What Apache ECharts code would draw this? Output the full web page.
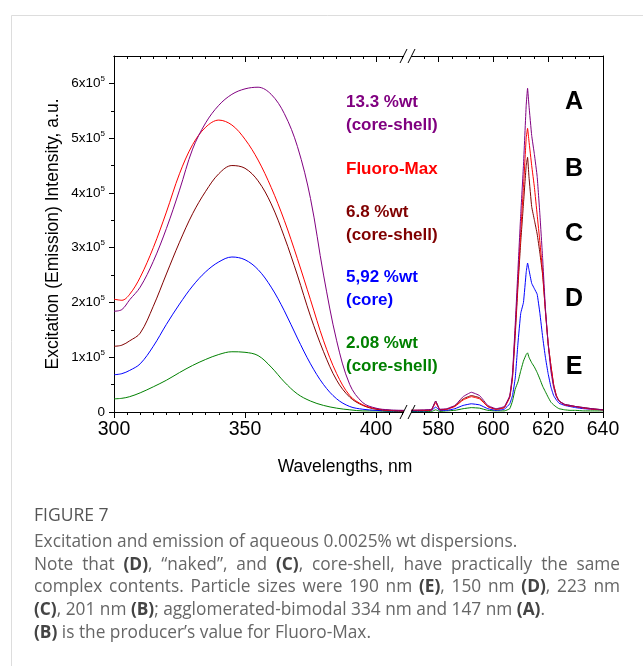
<!DOCTYPE html>
<html>
<head>
<meta charset="utf-8">
<script src="https://cdn.jsdelivr.net/npm/echarts@6/dist/echarts.min.js"></script>
<style>
html, body { margin: 0; padding: 0; background: #fff; }
#chart { width: 643px; height: 666px; }
</style>
</head>
<body>
<div id="chart"></div>
<script>
// values in units of 10^5
var exWl = [300, 303, 306, 310, 315, 320, 325, 330, 335, 340, 345, 350, 355, 360, 365, 370, 375, 380, 385, 390, 395, 400, 405, 410.7];
var exA = [1.84, 1.87, 2.05, 2.28, 2.75, 3.35, 4.05, 4.8, 5.28, 5.6, 5.8, 5.9, 5.93, 5.8, 5.45, 4.85, 3.9, 2.5, 1.3, 0.5, 0.17, 0.07, 0.04, 0.03];
var exB = [2.06, 2.04, 2.15, 2.46, 3.0, 3.65, 4.35, 4.88, 5.2, 5.33, 5.24, 4.98, 4.6, 4.1, 3.5, 2.8, 2.05, 1.3, 0.7, 0.3, 0.13, 0.06, 0.03, 0.02];
var exC = [1.2, 1.22, 1.3, 1.44, 1.93, 2.52, 3.1, 3.62, 4.03, 4.35, 4.5, 4.45, 4.22, 3.8, 3.2, 2.5, 1.75, 1.1, 0.58, 0.27, 0.12, 0.05, 0.03, 0.02];
var exD = [0.68, 0.7, 0.76, 0.88, 1.2, 1.6, 1.97, 2.3, 2.56, 2.74, 2.83, 2.78, 2.6, 2.28, 1.85, 1.35, 0.88, 0.5, 0.24, 0.1, 0.05, 0.03, 0.02, 0.02];
var exE = [0.24, 0.25, 0.28, 0.35, 0.46, 0.58, 0.72, 0.85, 0.96, 1.05, 1.1, 1.09, 1.03, 0.82, 0.55, 0.33, 0.2, 0.12, 0.07, 0.04, 0.02, 0.02, 0.01, 0.01];

var emWl = [570, 575, 577.5, 579, 580.5, 583, 586, 589, 592, 595, 598, 601, 604, 606, 607, 608, 609, 610, 611, 612, 612.5, 613, 614, 615, 616, 617, 618, 619, 620, 621, 622, 623, 624, 626, 628, 630, 633, 636, 640];
var emA = [0.03, 0.04, 0.05, 0.2, 0.05, 0.06, 0.12, 0.28, 0.36, 0.3, 0.12, 0.06, 0.1, 0.3, 0.7, 1.6, 2.6, 3.6, 4.5, 5.6, 5.91, 5.6, 5.05, 4.7, 4.3, 3.6, 2.8, 1.9, 1.25, 0.75, 0.45, 0.28, 0.2, 0.14, 0.12, 0.1, 0.08, 0.06, 0.04];
var emB = [0.03, 0.03, 0.04, 0.17, 0.04, 0.05, 0.1, 0.22, 0.28, 0.24, 0.1, 0.05, 0.08, 0.28, 0.65, 1.5, 2.4, 3.3, 4.1, 5.0, 5.18, 4.95, 4.5, 4.1, 3.6, 3.1, 2.55, 1.85, 1.25, 0.85, 0.5, 0.3, 0.2, 0.13, 0.11, 0.1, 0.07, 0.05, 0.04];
var emC = [0.03, 0.03, 0.04, 0.2, 0.04, 0.05, 0.11, 0.24, 0.3, 0.26, 0.1, 0.05, 0.08, 0.27, 0.62, 1.4, 2.3, 3.1, 3.8, 4.5, 4.65, 4.3, 3.75, 3.5, 3.25, 2.9, 2.5, 1.85, 1.25, 0.85, 0.5, 0.3, 0.2, 0.14, 0.12, 0.1, 0.08, 0.06, 0.04];
var emD = [0.02, 0.02, 0.03, 0.09, 0.03, 0.03, 0.06, 0.12, 0.15, 0.13, 0.06, 0.03, 0.05, 0.15, 0.3, 0.62, 1.26, 1.8, 2.0, 2.55, 2.72, 2.6, 2.35, 2.25, 2.15, 1.8, 1.37, 1.0, 0.7, 0.46, 0.3, 0.22, 0.16, 0.12, 0.1, 0.08, 0.06, 0.05, 0.04];
var emE = [0.01, 0.01, 0.01, 0.04, 0.01, 0.02, 0.03, 0.06, 0.08, 0.07, 0.03, 0.02, 0.02, 0.06, 0.2, 0.42, 0.55, 0.75, 0.93, 1.05, 1.08, 1.0, 0.9, 0.82, 0.72, 0.6, 0.47, 0.37, 0.27, 0.18, 0.13, 0.09, 0.06, 0.04, 0.03, 0.03, 0.02, 0.02, 0.02];

var exMajor = [300, 350, 400];
var exMinor = [305, 310, 315, 320, 325, 330, 335, 340, 345, 355, 360, 365, 370, 375, 380, 385, 390, 395, 405, 410];
var emMajor = [580, 600, 620, 640];
var emMinor = [575, 585, 590, 595, 605, 610, 615, 625, 630, 635];
var yMajor = [0, 1, 2, 3, 4, 5, 6];
var yMinor = [0.5, 1.5, 2.5, 3.5, 4.5, 5.5];

var seriesNames = ['A', 'B', 'C', 'D', 'E'];
var seriesColors = ['#800080', '#ff0000', '#800000', '#0000ff', '#008000'];
var noteLines = [['13.3 %wt', '(core-shell)'], ['Fluoro-Max'], ['6.8 %wt', '(core-shell)'], ['5,92 %wt', '(core)'], ['2.08 %wt', '(core-shell)']];

var captionLines = [
	'Excitation and emission of aqueous 0.0025% wt dispersions.',
	'Note that {b|(D)}, \u201cnaked\u201d, and {b|(C)}, core-shell, have practically the same',
	'complex contents. Particle sizes were 190 nm {b|(E)}, 150 nm {b|(D)}, 223 nm',
	'{b|(C)}, 201 nm {b|(B)}; agglomerated-bimodal 334 nm and 147 nm {b|(A)}.',
	'{b|(B)} is the producer\u2019s value for Fluoro-Max.'
];
var captionJustify = [false, true, true, false, false];

var FONT = 'Arial, "Liberation Sans", sans-serif';
var CAP = '"Open Sans", Lato, sans-serif';
var CAP_SIZE = 17.3;
var chart = echarts.init(document.getElementById('chart'));

function pairs(xs, ys) {
	return xs.map(function (x, i) { return [x, ys[i]]; });
}

function xAx(grid, min, max, pos, vals, len, labels) {
	return {
		type: 'value', gridIndex: grid, min: min, max: max, position: pos,
		axisLine: { show: true, onZero: false, lineStyle: { color: '#000', width: 1 } },
		axisTick: { show: true, inside: pos === 'top', length: len, customValues: vals, lineStyle: { color: '#000' } },
		axisLabel: labels ? { show: true, customValues: vals, margin: 8, color: '#000', fontSize: 19.5, fontFamily: FONT } : { show: false },
		splitLine: { show: false }
	};
}

var grids = [
	{ left: 114, top: 56, width: 290, height: 356 },
	{ left: 411, top: 56, width: 192, height: 356 }
];

var xAxes = [
	xAx(0, 300, 410.7, 'bottom', exMajor, 6, true),
	xAx(0, 300, 410.7, 'bottom', exMinor, 3, false),
	xAx(0, 300, 410.7, 'top', exMajor, 6, false),
	xAx(0, 300, 410.7, 'top', exMinor, 3, false),
	xAx(1, 570, 640, 'bottom', emMajor, 6, true),
	xAx(1, 570, 640, 'bottom', emMinor, 3, false),
	xAx(1, 570, 640, 'top', emMajor, 6, false),
	xAx(1, 570, 640, 'top', emMinor, 3, false)
];

var yAxes = [{
	type: 'value', gridIndex: 0, min: 0, max: 6.5, position: 'left',
	name: 'Excitation (Emission) Intensity, a.u.', nameLocation: 'middle', nameGap: 52,
	nameTextStyle: { fontSize: 17.5, color: '#000', fontFamily: FONT },
	axisLine: { show: true, lineStyle: { color: '#000' } },
	axisTick: { show: true, length: 5, customValues: yMajor, lineStyle: { color: '#000' } },
	axisLabel: {
		customValues: yMajor, margin: 9, color: '#000', fontFamily: FONT,
		formatter: function (v) { return v === 0 ? '{m|0}' : '{m|' + v + 'x10}{s|5}'; },
		rich: {
			m: { fontSize: 13.5, lineHeight: 17, fontFamily: FONT, color: '#000' },
			s: { fontSize: 8, lineHeight: 9, verticalAlign: 'top', fontFamily: FONT, color: '#000' }
		}
	},
	splitLine: { show: false }
}, {
	type: 'value', gridIndex: 0, min: 0, max: 6.5, position: 'left',
	axisLine: { show: false },
	axisTick: { show: true, length: 3, customValues: yMinor, lineStyle: { color: '#000' } },
	axisLabel: { show: false },
	splitLine: { show: false }
}, {
	type: 'value', gridIndex: 1, min: 0, max: 6.5, position: 'right',
	axisLine: { show: true, lineStyle: { color: '#000' } },
	axisTick: { show: false }, axisLabel: { show: false }, splitLine: { show: false }
}];

var exData = [exA, exB, exC, exD, exE];
var emData = [emA, emB, emC, emD, emE];
var series = [];
for (var i = 4; i >= 0; i--) {
	series.push({
		name: seriesNames[i] + ' ex', type: 'line', xAxisIndex: 0, yAxisIndex: 0,
		data: pairs(exWl, exData[i]), showSymbol: false, smooth: 0.35,
		lineStyle: { color: seriesColors[i], width: 1 }, itemStyle: { color: seriesColors[i] }
	});
	series.push({
		name: seriesNames[i] + ' em', type: 'line', xAxisIndex: 4, yAxisIndex: 2,
		data: pairs(emWl, emData[i]), showSymbol: false, smooth: 0.1,
		lineStyle: { color: seriesColors[i], width: 1 }, itemStyle: { color: seriesColors[i] }
	});
}

// card frame, break marks, annotations, caption
var graphics = [{
	type: 'rect', shape: { x: 11.5, y: 15.5, width: 700, height: 700 }, z: -1,
	style: { fill: '#fff', stroke: '#dddddd', lineWidth: 1 }
}];

[412, 56].forEach(function (y0) {
	graphics.push({ type: 'rect', shape: { x: 404, y: y0 - 2, width: 7, height: 4 }, style: { fill: '#fff' }, z: 50 });
	graphics.push({ type: 'line', shape: { x1: 400, y1: y0 + 7, x2: 407, y2: y0 - 7 }, style: { stroke: '#000', lineWidth: 1 }, z: 51 });
	graphics.push({ type: 'line', shape: { x1: 408, y1: y0 + 7, x2: 415, y2: y0 - 7 }, style: { stroke: '#000', lineWidth: 1 }, z: 51 });
});

var noteY = [102, 169, 212, 277, 343];
var letterY = [102, 169, 234, 299, 367];
noteLines.forEach(function (lines, i) {
	graphics.push({
		type: 'text', left: 346, top: noteY[i] - 11,
		style: { text: lines.join('\n'), fill: seriesColors[i], font: 'bold 17px ' + FONT, lineHeight: 23 }
	});
	graphics.push({
		type: 'text', x: 574, y: letterY[i],
		style: { text: seriesNames[i], fill: '#000', font: 'bold 25px ' + FONT, align: 'center', verticalAlign: 'middle' }
	});
});

graphics.push({
	type: 'text', x: 345, y: 467,
	style: { text: 'Wavelengths, nm', fill: '#000', font: '17.5px ' + FONT, align: 'center', verticalAlign: 'middle' }
});

graphics.push({
	type: 'text', x: 34, y: 516,
	style: { text: 'FIGURE 7', fill: '#555', font: '17.5px ' + CAP, verticalAlign: 'middle' }
});

// caption words are placed one by one so lines 2-3 can be justified
var ctx = document.createElement('canvas').getContext('2d');
function wordWidth(w) {
	var re = /\{b\|([^}]*)\}|([^{]+)/g, m, total = 0;
	while ((m = re.exec(w)) !== null) {
		ctx.font = (m[1] !== undefined ? 'bold ' : '') + CAP_SIZE + 'px ' + CAP;
		total += ctx.measureText(m[1] !== undefined ? m[1] : m[2]).width;
	}
	return total;
}
ctx.font = CAP_SIZE + 'px ' + CAP;
var spaceW = ctx.measureText(' ').width;
var capRight = 620;
captionLines.forEach(function (line, i) {
	var words = line.split(' ');
	var widths = words.map(wordWidth);
	var sum = widths.reduce(function (a, b) { return a + b; }, 0);
	var gap = captionJustify[i] ? (capRight - 34 - sum) / (words.length - 1) : spaceW;
	var x = 34;
	words.forEach(function (w, k) {
		graphics.push({
			type: 'text', x: x, y: 542 + i * 22.75,
			style: {
				text: w, fill: '#666', fontSize: CAP_SIZE, fontFamily: CAP, verticalAlign: 'middle',
				rich: { b: { fontWeight: 'bold', fill: '#444', color: '#444', fontSize: CAP_SIZE, fontFamily: CAP } }
			}
		});
		x += widths[k] + gap;
	});
});

var option = {
	backgroundColor: '#fff',
	animation: false,
	grid: grids,
	xAxis: xAxes,
	yAxis: yAxes,
	series: series,
	graphic: graphics
};
chart.setOption(option);
</script>
</body>
</html>
